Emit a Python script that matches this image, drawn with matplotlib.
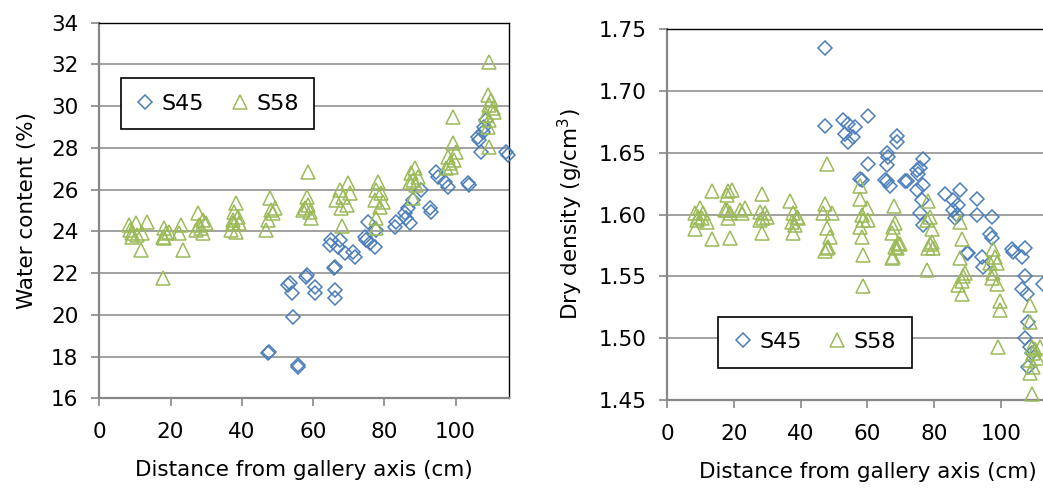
import numpy as np
import matplotlib.pyplot as plt

# --- water content vs distance (left) ---
wc_s45_x = [47.4, 47.6, 55.8, 55.9, 54.4, 53.0, 53.5, 54.0, 58.1, 58.3, 60.5, 60.5,
            66.1, 66.1, 65.9, 66.1, 65.1, 64.7, 67.5, 67.0, 68.9, 71.2, 71.7, 75.4,
            74.5, 74.9, 75.9, 77.3, 77.8, 83.4, 82.9, 85.7, 86.1, 87.1, 86.6, 88.0,
            90.4, 92.7, 93.2, 94.6, 95.1, 96.9, 97.9, 103.5, 103.9, 106.3, 106.7,
            107.7, 108.1, 107.2, 108.6, 114.2, 114.7]
wc_s45_y = [18.16, 18.24, 17.60, 17.52, 19.91, 21.43, 21.51, 21.03, 21.83, 21.90, 21.35, 21.03,
            21.19, 20.79, 22.23, 22.31, 23.59, 23.35, 23.59, 23.27, 22.95, 23.03, 22.79, 24.47,
            23.75, 23.59, 23.43, 23.27, 24.07, 24.47, 24.23, 24.87, 24.63, 24.39, 25.10, 25.50,
            25.98, 25.10, 24.95, 26.86, 26.62, 26.38, 26.14, 26.30, 26.22, 28.54, 28.38,
            28.78, 29.02, 27.82, 29.34, 27.82, 27.66]

wc_s58_x = [8.2, 10.3, 13.4, 9.3, 10.7, 11.7, 8.6, 12.1, 9.1,
            18.2, 18.7, 17.8, 19.6, 18.2, 18.0, 22.9, 22.4, 23.4,
            27.6, 29.0, 28.0, 28.5, 29.9, 27.1, 29.0,
            38.3, 37.9, 38.8, 37.4, 39.3, 36.9, 38.3, 37.4,
            47.9, 48.3, 47.4, 48.8, 46.9, 49.2,
            58.6, 58.2, 58.6, 59.1, 57.7, 59.5, 57.2,
            69.8, 67.5, 68.5, 66.5, 69.4, 67.9, 68.0, 70.3,
            78.3, 77.8, 79.2, 77.3, 79.7, 78.8, 77.8, 77.8,
            88.5, 87.6, 89.4, 87.1, 89.0, 88.0, 88.1,
            99.3, 99.3, 100.2, 97.9, 98.4, 97.4, 98.8, 99.7,
            109.5, 109.1, 110.0, 109.5, 110.5, 108.6, 109.5, 109.1, 109.5, 110.9]
wc_s58_y = [24.30, 24.38, 24.46, 23.90, 23.82, 23.11, 24.06, 23.90, 23.75,
            24.15, 23.90, 23.74, 23.98, 23.66, 21.75, 24.30, 23.90, 23.10,
            24.86, 24.54, 24.30, 24.14, 24.38, 24.06, 23.90,
            25.34, 24.94, 24.70, 24.38, 24.38, 24.06, 23.98, 24.54,
            25.58, 25.03, 24.55, 24.87, 24.07, 25.10,
            26.86, 25.66, 25.26, 24.94, 25.10, 24.62, 25.03,
            26.30, 25.98, 25.66, 25.50, 25.26, 25.10, 24.25, 25.82,
            26.38, 25.98, 25.82, 25.50, 25.42, 25.18, 24.62, 24.14,
            27.02, 26.78, 26.62, 26.38, 26.22, 26.46, 25.58,
            29.50, 28.22, 27.82, 27.58, 27.26, 27.02, 27.10, 27.42,
            32.13, 30.54, 30.30, 30.06, 29.90, 29.58, 29.34, 29.02, 28.06, 29.74]

# --- dry density vs distance (right) ---
dd_s45_x = [47.3, 47.3, 52.8, 54.3, 53.3, 56.3, 54.3, 55.8, 60.3, 60.3, 58.3, 57.8,
            65.8, 66.3, 65.8, 68.8, 68.8, 65.3, 65.8, 66.8, 71.3, 71.8,
            74.8, 75.3, 76.8, 75.8, 74.8, 76.8, 76.3, 75.8, 76.8,
            83.3, 85.8, 87.8, 85.8, 87.3, 86.3, 86.8,
            92.8, 92.8, 97.3, 96.8, 97.3, 90.3, 89.8, 94.3, 94.8,
            103.3, 103.8, 107.3, 106.3, 107.3, 106.3, 107.8, 112.8,
            108.3, 107.3, 108.8, 108.3, 109.3]
dd_s45_y = [1.735, 1.672, 1.677, 1.673, 1.665, 1.671, 1.659, 1.663, 1.680, 1.641, 1.628, 1.629,
            1.650, 1.647, 1.640, 1.664, 1.659, 1.628, 1.627, 1.623, 1.627, 1.627,
            1.636, 1.633, 1.645, 1.638, 1.620, 1.624, 1.612, 1.601, 1.592,
            1.617, 1.612, 1.620, 1.604, 1.608, 1.597, 1.600,
            1.613, 1.600, 1.598, 1.584, 1.581, 1.569, 1.569, 1.566, 1.558,
            1.572, 1.570, 1.573, 1.566, 1.550, 1.540, 1.536, 1.544,
            1.513, 1.500, 1.493, 1.477, 1.488]

dd_s58_x = [13.3, 8.3, 9.8, 10.8, 8.8, 10.3, 11.8, 8.3, 13.3, 9.3,
            18.3, 19.3, 17.8, 17.8, 18.8, 18.3, 17.3, 18.8, 21.8, 23.3, 22.3,
            28.3, 27.8, 29.3, 28.8, 27.8, 28.3, 29.8,
            36.8, 37.8, 38.8, 37.3, 38.3, 37.8, 39.3,
            48.0, 47.3, 46.8, 49.3, 47.8, 48.8, 47.8, 48.3, 47.3,
            57.8, 57.8, 59.8, 58.3, 58.8, 60.3, 57.8, 58.3, 58.6, 58.6,
            68.0, 67.8, 68.3, 67.3, 69.3, 68.3, 69.8, 67.8, 67.3, 68.8,
            78.3, 78.8, 77.8, 79.3, 78.8, 79.8, 78.3, 77.8, 79.3,
            87.8, 88.3, 87.8, 88.8, 88.3, 89.3, 88.3, 87.3,
            97.8, 98.8, 96.8, 97.8, 98.8, 97.3, 99.8, 99.8, 99.3, 98.3,
            108.8, 108.8, 109.3, 109.8, 108.8, 109.8, 108.8, 109.3, 110.3, 110.8, 111.8]
dd_s58_y = [1.619, 1.601, 1.605, 1.601, 1.596, 1.597, 1.594, 1.588, 1.580, 1.598,
            1.619, 1.620, 1.616, 1.604, 1.601, 1.597, 1.604, 1.581, 1.604, 1.605, 1.601,
            1.617, 1.602, 1.601, 1.597, 1.596, 1.585, 1.598,
            1.611, 1.601, 1.598, 1.594, 1.592, 1.585, 1.597,
            1.641, 1.609, 1.601, 1.601, 1.589, 1.582, 1.573, 1.574, 1.571,
            1.623, 1.613, 1.605, 1.600, 1.596, 1.596, 1.590, 1.582, 1.567, 1.542,
            1.607, 1.590, 1.593, 1.585, 1.577, 1.574, 1.576, 1.566, 1.565, 1.573,
            1.611, 1.598, 1.596, 1.588, 1.576, 1.573, 1.573, 1.555, 1.578,
            1.594, 1.580, 1.565, 1.550, 1.546, 1.553, 1.536, 1.543,
            1.572, 1.561, 1.561, 1.553, 1.544, 1.549, 1.530, 1.523, 1.493, 1.566,
            1.527, 1.513, 1.493, 1.488, 1.482, 1.477, 1.472, 1.455, 1.491, 1.484, 1.493]

x_ticks = [0, 20, 40, 60, 80, 100]
wc_ticks = np.arange(16, 35, 2)
dd_ticks = np.arange(1.45, 1.7501, 0.05)

blue = '#4A7EBB'
green = '#9BBB59'
grey = '#878787'
fs = 15.5

plt.rcParams['font.family'] = 'DejaVu Sans'

fig = plt.figure(figsize=(10.43, 4.91), dpi=100)
ax1 = fig.add_axes([0.0952, 0.1888, 0.3928, 0.765])
ax2 = fig.add_axes([0.6398, 0.1853, 0.3837, 0.755])


def style_axes(ax):
    ax.grid(axis='y', color=grey, linewidth=1.1, zorder=0)
    ax.set_axisbelow(True)
    for side in ('left', 'bottom'):
        ax.spines[side].set_color(grey)
        ax.spines[side].set_linewidth(1.6)
    for side in ('top', 'right'):
        ax.spines[side].set_color('black')
        ax.spines[side].set_linewidth(1.0)
    ax.tick_params(axis='both', direction='out', length=6, width=1.2,
                   color=grey, labelsize=fs, pad=9)
    ax.tick_params(axis='x', pad=11)
    ax.set_xticks(x_ticks)
    ax.set_xlabel('Distance from gallery axis (cm)', fontsize=fs, labelpad=13)


def draw_series(ax, xa, ya, xb, yb):
    ax.plot(xa, ya, ls='none', marker='D', ms=7.0, mfc='none', mec=blue,
            mew=1.1, label='S45', zorder=3, clip_on=False)
    ax.plot(xb, yb, ls='none', marker='^', ms=9.8, mfc='none', mec=green,
            mew=1.1, label='S58', zorder=4, clip_on=False)


def add_legend(ax, anchor):
    leg = ax.legend(loc='upper left', bbox_to_anchor=anchor, ncol=2,
                    fontsize=16, frameon=True, fancybox=False, framealpha=1,
                    edgecolor='black', borderaxespad=0, borderpad=0.7,
                    handlelength=0.8, handletextpad=0.35, columnspacing=1.2)
    leg.get_frame().set_linewidth(1.2)
    return leg


# left panel
draw_series(ax1, wc_s45_x, wc_s45_y, wc_s58_x, wc_s58_y)
style_axes(ax1)
ax1.set_xlim(0, 115)
ax1.set_ylim(16, 34)
ax1.set_yticks(wc_ticks)
ax1.set_ylabel('Water content (%)', fontsize=fs, labelpad=10)
add_legend(ax1, (0.052, 0.852))

# right panel (extends past the figure edge)
draw_series(ax2, dd_s45_x, dd_s45_y, dd_s58_x, dd_s58_y)
style_axes(ax2)
ax2.set_xlim(0, 120)
ax2.set_ylim(1.45, 1.75)
ax2.set_yticks(dd_ticks)
ax2.set_yticklabels([f'{v:.2f}' for v in dd_ticks])
ax2.set_ylabel('Dry density (g/cm$^3$)', fontsize=fs, labelpad=10)
add_legend(ax2, (0.127, 0.225))

fig.savefig('out.png', dpi=100)
